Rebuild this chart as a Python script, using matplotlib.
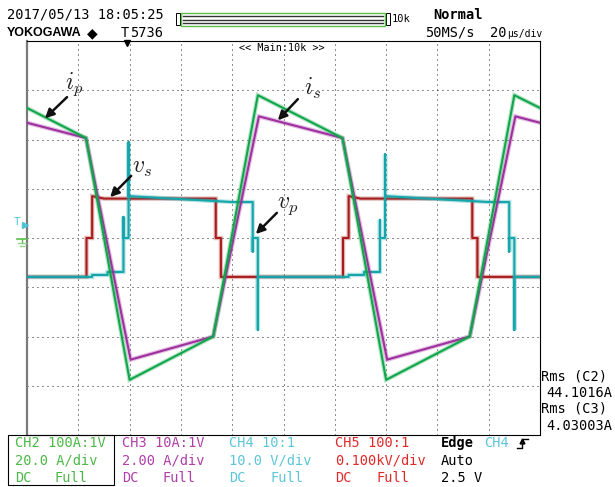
import matplotlib
matplotlib.use("Agg")
import matplotlib.pyplot as plt
from matplotlib.patches import Rectangle

# ---- waveform data (time in us, values in A or V) ----
# CH2 primary current ip (20 A/div)
ip_t = [0, 23, 40, 72.6, 90, 123, 140, 172.6, 190, 200]
ip_a = [52.8, 40.6, -57.6, -40, 58, 40.6, -57.6, -40, 58, 52.8]

# CH3 secondary current is (2 A/div)
is_t = [0, 23, 40.4, 72.6, 90.4, 123, 140.4, 172.6, 190.4, 200]
is_a = [4.68, 4.06, -4.94, -4.0, 4.94, 4.06, -4.94, -4.0, 4.94, 4.68]

# CH5 secondary voltage vs (100 V/div)
vs_t = [0, 23.2, 23.2, 25.4, 25.4, 30, 73.6, 73.6, 75.6, 75.6,
        123.2, 123.2, 125.4, 125.4, 130, 173.6, 173.6, 175.6, 175.6, 200]
vs_v = [-79, -79, 0, 0, 85, 80, 80, 0, 0, -79,
        -79, 0, 0, 85, 80, 80, 0, 0, -79, -79]

# CH4 primary voltage vp (10 V/div)
vp_t = [0, 25.4, 25.4, 31.4, 31.4, 37.6, 37.6, 37.6, 39.6, 39.6, 39.6, 80, 88, 88, 88, 90, 90, 90,
        125.4, 125.4, 131.4, 131.4, 137.6, 137.6, 137.6, 139.6, 139.6, 139.6, 180, 188, 188, 188, 190, 190, 190,
        200]
vp_v = [-7.9, -7.9, -7.5, -7.5, -6.9, -6.9, 4.3, 0, 0, 19.5, 8.5, 7.3, 7.3, -2.8, 0, 0, -18.7, -7.9,
        -7.9, -7.5, -7.5, -6.9, -6.9, 3.7, 0, 0, 17.0, 8.5, 7.3, 7.3, -2.8, 0, 0, -18.7, -7.9,
        -7.9]

# volts (or amps) per division
scale = {"ip": 20.0, "is": 2.0, "vp": 10.0, "vs": 100.0}

W, H = 615, 487
MONO = "DejaVu Sans Mono"
plt.rcParams["mathtext.fontset"] = "cm"

fig = plt.figure(figsize=(W / 100, H / 100), dpi=100)
ax = fig.add_axes([27 / W, 1 - 435 / H, 513 / W, 394 / H])
ax.set_xlim(0, 200)
ax.set_ylim(-4, 4)
ax.set_xticks(range(20, 200, 20))
ax.set_yticks(range(-3, 4))
ax.tick_params(length=0, labelbottom=False, labelleft=False)
ax.grid(True, color="#222222", lw=0.72, linestyle=(0, (1, 4)))
for s in ["top", "right", "bottom"]:
    ax.spines[s].set_color("black")
    ax.spines[s].set_linewidth(0.8)
ax.spines["left"].set_color("#7a7a7a")
ax.spines["left"].set_linewidth(1.6)


def trace(t, v, sc, color, z):
    y = [x / sc for x in v]
    ax.plot(t, y, color=color, lw=3.2, alpha=0.3, zorder=z, solid_joinstyle="miter")
    ax.plot(t, y, color=color, lw=1.5, zorder=z + 0.1)


trace(vs_t, vs_v, scale["vs"], "#a81c1c", 3)
trace(vp_t, vp_v, scale["vp"], "#14a6aa", 4)
trace(is_t, is_a, scale["is"], "#a0309f", 5)
trace(ip_t, ip_a, scale["ip"], "#10a64a", 6)

# annotations
labels = [
    (r"$i_p$", (18.4, 3.12), (15.6, 2.86), (7.0, 2.43)),
    (r"$v_s$", (44.8, 1.44), (40.6, 1.26), (32.4, 0.83)),
    (r"$v_p$", (101.8, 0.67), (97.4, 0.51), (89.2, 0.08)),
    (r"$i_s$", (111.4, 3.04), (105.6, 2.82), (97.8, 2.39)),
]
for lab, pos, start, head in labels:
    ax.text(pos[0], pos[1], lab, fontsize=17, color="#222222", ha="center", va="center", zorder=10)
    ax.annotate("", xy=head, xytext=start, zorder=10,
                arrowprops=dict(arrowstyle="-|>", lw=1.8, color="#111111", mutation_scale=13,
                                shrinkA=0, shrinkB=0))

# ---- overlay in pixel coordinates for the scope screen furniture ----
ov = fig.add_axes([0, 0, 1, 1], zorder=5)
ov.set_xlim(0, W)
ov.set_ylim(H, 0)
ov.axis("off")
ov.patch.set_alpha(0)


def txt(x, y, s, size=9.8, color="black", **kw):
    ov.text(x, y, s, fontsize=size, color=color, va="center", ha="left",
            family=kw.pop("family", MONO), **kw)


txt(7, 15, "2017/05/13 18:05:25")
txt(7, 33, "YOKOGAWA", size=9, family="Liberation Sans", weight="bold")
txt(87, 33, "\u25c6", size=10, family="DejaVu Sans")
txt(121, 33, "T")
txt(130, 33, "5736")
ov.plot([127], [43], marker="v", ms=4, color="black")

# history bar
ov.add_patch(Rectangle((176, 13), 4, 12, fill=False, ec="black", lw=0.7))
ov.add_patch(Rectangle((386, 13), 4, 12, fill=False, ec="black", lw=0.7))
ov.add_patch(Rectangle((181, 13), 204, 13, fill=False, ec="#5cbf4a", lw=1.0))
for yy in (16, 19.5, 23):
    ov.plot([183, 383], [yy, yy], color="#333333", lw=1.0)
txt(392, 19, "10k", size=7.5)

txt(433, 15, "Normal", weight="bold")
txt(425, 33, "50MS/s")
txt(490, 33, "20")
txt(507, 34, "\u00b5s/div", size=7)
ov.text(282, 48, "<< Main:10k >>", fontsize=7.3, family=MONO, ha="center", va="center",
        bbox=dict(fc="white", ec="none", pad=0.3))

# left markers: trigger level and ground
txt(14, 222, "T", size=8, color="#4cc4d4")
ov.plot([25], [225], marker=">", ms=4, color="#4cc4d4")
ov.plot([17, 27], [239, 239], color="#5cbf4a", lw=1.2)
ov.plot([22, 22], [239, 243], color="#5cbf4a", lw=1.0)
ov.plot([18, 26], [243, 243], color="#8fd28a", lw=1.0)
ov.plot([20, 24], [246, 246], color="#8fd28a", lw=1.0)

# measurements
txt(541, 376, "Rms (C2)")
txt(546, 393, "44.1016A")
txt(541, 409, "Rms (C3)")
txt(546, 426, "4.03003A")

# channel setup panel
ov.add_patch(Rectangle((8, 435), 106, 50, fill=False, ec="black", lw=0.8))
cols = [
    (15, 55, "#4cb848", ["CH2 100A:1V", "20.0 A/div"]),
    (122, 163, "#b03fa8", ["CH3 10A:1V", "2.00 A/div"]),
    (229, 270, "#5cc6d6", ["CH4 10:1", "10.0 V/div"]),
    (335, 376, "#e02a2a", ["CH5 100:1", "0.100kV/div"]),
]
for x0, x1, c, lines in cols:
    txt(x0, 443, lines[0], color=c)
    txt(x0, 461, lines[1], color=c)
    txt(x0, 478, "DC", color=c)
    txt(x1, 478, "Full", color=c)
txt(441, 443, "Edge", weight="bold")
txt(484, 443, "CH4", color="#5cc6d6")
txt(441, 461, "Auto")
txt(441, 478, "2.5 V")
ov.plot([517, 522, 522, 528], [448, 448, 439, 439], color="black", lw=1.0)
ov.plot([522], [441], marker="^", ms=3.5, color="black")

fig.savefig("out.png", dpi=100)
